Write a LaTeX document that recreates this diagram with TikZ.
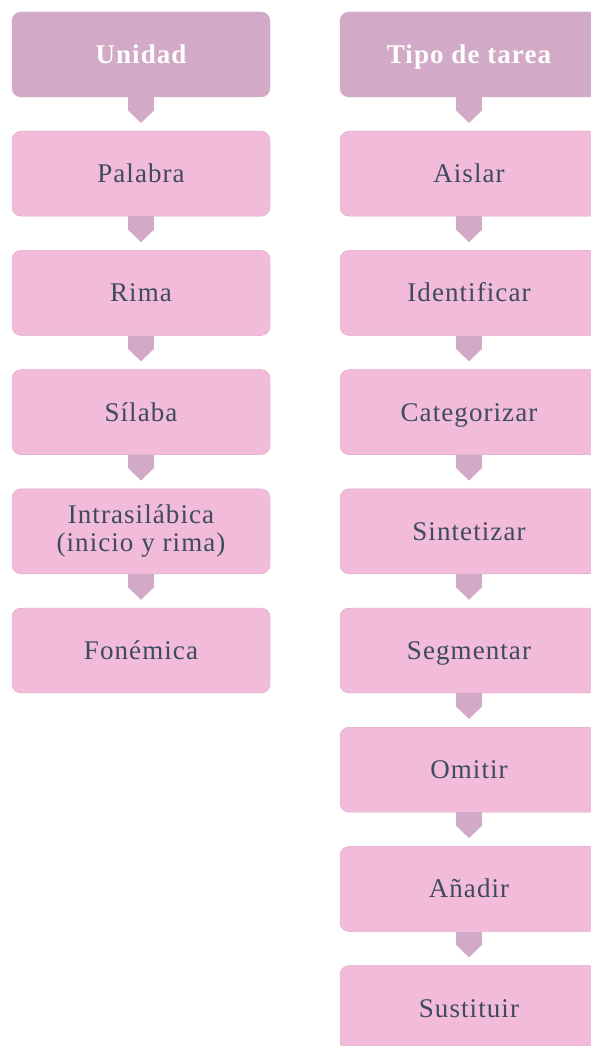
\documentclass[tikz,border=0pt]{standalone}
\usepackage{fontspec}
\setmainfont{Liberation Serif}[LetterSpace=4]
\usetikzlibrary{arrows.meta}
\definecolor{mauve}{RGB}{210,169,198}
\definecolor{pinkbox}{RGB}{241,187,217}
\definecolor{pinkline}{RGB}{224,166,200}
\definecolor{slate}{RGB}{62,74,96}

\begin{document}
\begin{tikzpicture}[x=1pt, y=-1pt,
    box/.style={rectangle, rounded corners=9pt, draw=pinkline,
      fill=pinkbox, text=slate, minimum width=258pt, minimum
      height=85pt, align=center, inner sep=2pt, text height=18pt,
      text depth=0pt, font=\fontsize{27}{28}\selectfont},
    head/.style={box, draw=mauve, fill=mauve, text=white,
      font=\fontsize{27}{28}\selectfont\bfseries},
    link/.style={mauve, line width=26pt,
      -{Triangle[width=26pt,length=13pt]}, shorten >=8pt}]
  \useasboundingbox (0,0) rectangle (591,1046);
  % unidad
  \begin{scope}[every node/.style={box}]
    \node [head] (u0) at (141,54.5) {Unidad}; \node (u1) at
    (141,173.7) {Palabra}; \node (u2) at (141,292.9) {Rima};
    \node (u3) at (141,412.1) {Sílaba}; \node [text height={},
    text depth={}] (u4) at (141,531.3) {Intrasilábica\\(inicio y
      rima)}; \node (u5) at (141,650.5) {Fonémica};
  \end{scope}
  % tipo de tarea
  \begin{scope}[every node/.style={box}]
    \node [head] (t0) at (469,54.5) {Tipo de tarea}; \node (t1) at
    (469,173.7) {Aislar}; \node (t2) at (469,292.9) {Identificar};
    \node (t3) at (469,412.1) {Categorizar}; \node (t4) at
    (469,531.3) {Sintetizar}; \node (t5) at (469,650.5)
    {Segmentar}; \node (t6) at (469,769.7) {Omitir}; \node (t7) at
    (469,888.9) {Añadir}; \node (t8) at (469,1008.1) {Sustituir};
  \end{scope}
  \begin{scope}[link]
    \draw (u0) to (u1); \draw (u1) to (u2); \draw (u2) to (u3);
    \draw (u3) to (u4); \draw (u4) to (u5);
    \draw (t0) to (t1); \draw (t1) to (t2); \draw (t2) to (t3);
    \draw (t3) to (t4); \draw (t4) to (t5); \draw (t5) to (t6);
    \draw (t6) to (t7); \draw (t7) to (t8);
  \end{scope}
\end{tikzpicture}
\end{document}
